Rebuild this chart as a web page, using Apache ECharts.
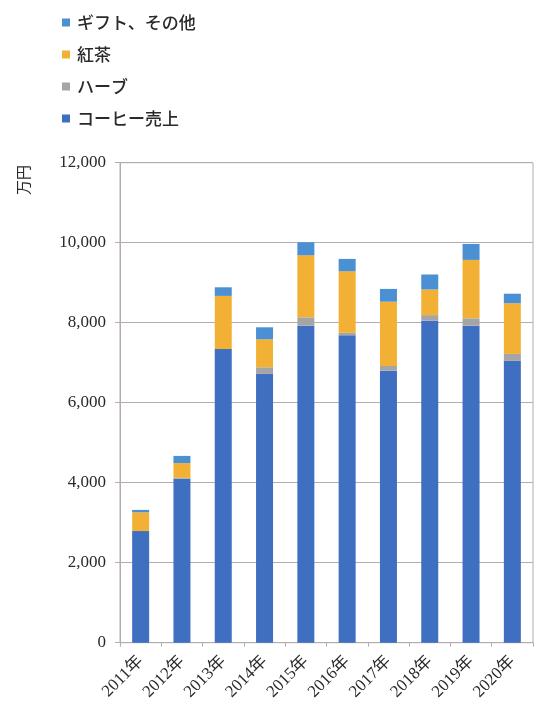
<!DOCTYPE html>
<html>
<head>
<meta charset="utf-8">
<script src="https://cdn.jsdelivr.net/npm/echarts@6/dist/echarts.min.js"></script>
<style>
  html, body { margin: 0; padding: 0; background: #ffffff; }
  #chart { width: 541px; height: 708px; }
</style>
</head>
<body>
<div id="chart"></div>
<script>
// Annual sales by product line (unit: 万円)
const years = ['2011年', '2012年', '2013年', '2014年', '2015年', '2016年', '2017年', '2018年', '2019年', '2020年'];
const coffee = [2790, 4100, 7340, 6720, 7925, 7685, 6800, 8050, 7925, 7045];
const herb   = [0, 20, 0, 165, 210, 65, 120, 140, 185, 175];
const tea    = [470, 370, 1330, 700, 1550, 1535, 1605, 640, 1460, 1265];
const gift   = [60, 180, 215, 300, 325, 310, 320, 375, 400, 240];
const yTicks = [0, 2000, 4000, 6000, 8000, 10000, 12000];

const serif = '"Liberation Serif", "DejaVu Serif", "Noto Sans CJK JP", serif';
const cjk = '"Noto Sans CJK JP", sans-serif';
const lineColor = '#b5adad';
const textColor = '#2a2a2a';

const chart = echarts.init(document.getElementById('chart'), null, { renderer: 'canvas' });

function bar(name, data, color) {
  return {
    name: name,
    type: 'bar',
    stack: 'total',
    barWidth: 17,
    data: data,
    itemStyle: { color: color },
    emphasis: { disabled: true }
  };
}

chart.setOption({
  animation: false,
  backgroundColor: '#ffffff',
  legend: {
    orient: 'vertical',
    left: 57,
    top: 9,
    itemWidth: 8,
    itemHeight: 8,
    itemGap: 15,
    icon: 'rect',
    data: ['ギフト、その他', '紅茶', 'ハーブ', 'コーヒー売上'],
    textStyle: { fontFamily: cjk, fontSize: 17, fontWeight: 500, color: textColor, padding: [0, 0, 0, 2] }
  },
  grid: {
    left: 120,
    right: 8,
    top: 162.7,
    bottom: 65.3,
    show: true,
    borderColor: lineColor,
    borderWidth: 1,
    backgroundColor: 'transparent'
  },
  xAxis: {
    type: 'category',
    data: years,
    axisLine: { lineStyle: { color: lineColor, width: 1 } },
    axisTick: { show: true, alignWithLabel: false, length: 4, lineStyle: { color: lineColor } },
    axisLabel: {
      interval: 0,
      rotate: 45,
      margin: 16,
      fontFamily: serif,
      fontSize: 17,
      color: textColor
    }
  },
  yAxis: {
    type: 'value',
    min: yTicks[0],
    max: yTicks[yTicks.length - 1],
    interval: yTicks[1] - yTicks[0],
    axisLine: { show: true, lineStyle: { color: lineColor, width: 1 } },
    axisTick: { show: true, length: 5, lineStyle: { color: lineColor } },
    splitLine: { show: true, lineStyle: { color: lineColor, width: 1 } },
    axisLabel: {
      margin: 14,
      fontFamily: serif,
      fontSize: 17,
      color: textColor,
      formatter: function (v) { return v.toLocaleString('en-US'); }
    }
  },
  graphic: [{
    type: 'text',
    x: 23,
    y: 180,
    rotation: Math.PI / 2,
    style: {
      text: '万円',
      fontFamily: cjk,
      fontSize: 15,
      fill: textColor,
      textAlign: 'center',
      textVerticalAlign: 'middle'
    }
  }],
  series: [
    bar('コーヒー売上', coffee, '#3f6fc0'),
    bar('ハーブ', herb, '#a5a5a5'),
    bar('紅茶', tea, '#f2b134'),
    bar('ギフト、その他', gift, '#4a90d2')
  ]
});
</script>
</body>
</html>
